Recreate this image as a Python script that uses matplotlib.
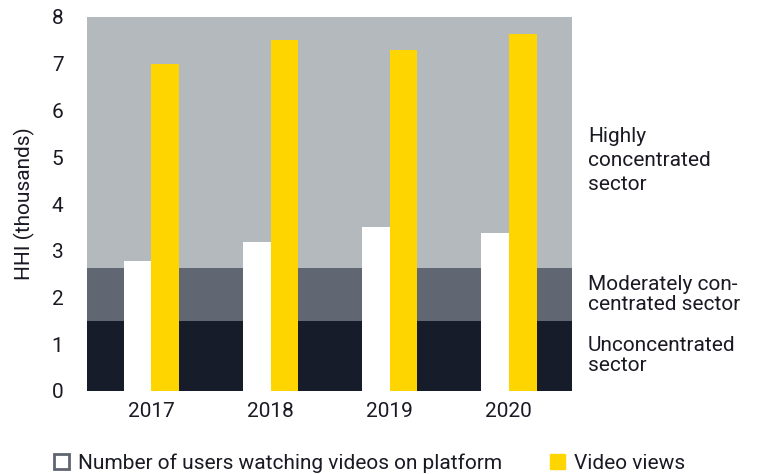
import numpy as np
import matplotlib.pyplot as plt
from matplotlib.patches import Patch

plt.rcParams['font.family'] = ['Roboto', 'DejaVu Sans']

years = ["2017", "2018", "2019", "2020"]
users = [2.78, 3.19, 3.51, 3.38]
views = [7.00, 7.51, 7.29, 7.64]

# HHI band limits (thousands)
band_edges = [0, 1.5, 2.63, 8]
band_colors = ["#161c29", "#606672", "#b4b9bd"]
band_labels = ["Unconcentrated\nsector", "Moderately con-\ncentrated sector",
               "Highly\nconcentrated\nsector"]
label_y = [0.76, 2.06, 4.93]

yellow = "#ffd500"
txt_col = "#1a1a24"
fs = 15

fig = plt.figure(figsize=(7.58, 4.74), dpi=100)
ax = fig.add_axes([87 / 758, 1 - 391 / 474, (572 - 87) / 758, (391 - 17) / 474])

for lo, hi, c in zip(band_edges[:-1], band_edges[1:], band_colors):
    ax.axhspan(lo if lo > 0 else -0.04, hi, color=c, zorder=0, lw=0)

x = np.arange(len(years))
w = 0.233
ax.bar(x - w / 2, users, w, color="white", zorder=2, lw=0)
ax.bar(x + w / 2, views, w, color=yellow, zorder=2, lw=0)

ax.set_xlim(-0.54, 3.53)
ax.set_ylim(0, 8)
ax.set_xticks(x)
ax.set_xticklabels(years)
ax.set_yticks(range(0, 9))
ax.tick_params(length=0, labelsize=fs, colors=txt_col, pad=8)
ax.tick_params(axis="y", pad=17)
for s in ax.spines.values():
    s.set_visible(False)
ax.set_ylabel("HHI (thousands)", fontsize=fs, color=txt_col, labelpad=12)

for txt, yy, ls in zip(band_labels, label_y, [1.05, 1.05, 1.35]):
    ax.text(1.033, yy, txt, transform=ax.get_yaxis_transform(), fontsize=fs,
            color=txt_col, va="center", ha="left", linespacing=ls, clip_on=False)

handles = [Patch(facecolor="white", edgecolor="#5f6570", lw=2),
           Patch(facecolor=yellow, edgecolor=yellow)]
fig.legend(handles, ["Number of users watching videos on platform", "Video views"],
           loc="center", bbox_to_anchor=(0.487, 1 - 463 / 474), ncol=2, frameon=False,
           fontsize=fs, handlelength=0.75, handleheight=0.75, handletextpad=0.4,
           columnspacing=2.3, labelcolor=txt_col)

fig.savefig("out.png", dpi=100)
